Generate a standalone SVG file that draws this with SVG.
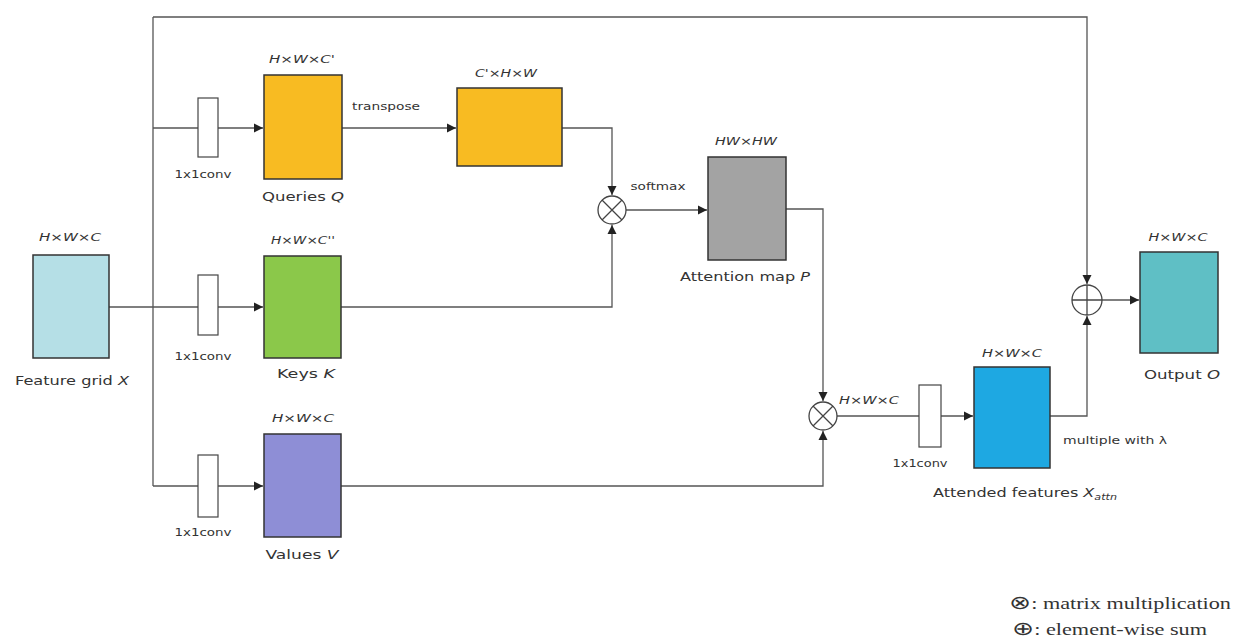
<svg xmlns="http://www.w3.org/2000/svg" width="1237" height="637" viewBox="0 0 1237 637">
<style>
.box{stroke:#333;stroke-width:1.5}
.conv{fill:#fff;stroke:#444;stroke-width:1.2}
.ln{fill:none;stroke:#555;stroke-width:1.3}
.lbl{font-family:"DejaVu Sans",Verdana,sans-serif;font-size:13px;fill:#333;text-anchor:middle}
.sm{font-family:"DejaVu Sans",Verdana,sans-serif;font-size:11px;fill:#333;text-anchor:middle}
.dim{font-family:"DejaVu Sans",Verdana,sans-serif;font-size:11px;font-style:italic;fill:#333;text-anchor:middle}
.op{fill:#fff;stroke:#444;stroke-width:1.3}
.leg{font-family:"Liberation Serif","Times New Roman",serif;font-size:16px;fill:#333}
</style>
<defs>
<marker id="ah" viewBox="0 0 10 10" refX="10" refY="5" markerWidth="7" markerHeight="7" orient="auto">
<path d="M0,0 L10,5 L0,10 z" fill="#222"/>
</marker>
</defs>
<rect width="1237" height="637" fill="#fff"/>
<g id="connectors">
<polyline class="ln" points="153,17 1087,17 1087,284" marker-end="url(#ah)"/>
<line class="ln" x1="109" y1="307" x2="153" y2="307"/>
<line class="ln" x1="153" y1="17" x2="153" y2="486"/>
<line class="ln" x1="153" y1="128" x2="263" y2="128" marker-end="url(#ah)"/>
<line class="ln" x1="153" y1="307" x2="263" y2="307" marker-end="url(#ah)"/>
<line class="ln" x1="153" y1="486" x2="263" y2="486" marker-end="url(#ah)"/>
<line class="ln" x1="342" y1="128" x2="456" y2="128" marker-end="url(#ah)"/>
<polyline class="ln" points="562,128 612,128 612,195" marker-end="url(#ah)"/>
<polyline class="ln" points="341,307 612,307 612,225" marker-end="url(#ah)"/>
<line class="ln" x1="626" y1="210" x2="707" y2="210" marker-end="url(#ah)"/>
<polyline class="ln" points="786,209 823,209 823,401" marker-end="url(#ah)"/>
<polyline class="ln" points="341,486 823,486 823,431" marker-end="url(#ah)"/>
<line class="ln" x1="837" y1="416" x2="973" y2="416" marker-end="url(#ah)"/>
<polyline class="ln" points="1050,416 1087,416 1087,316" marker-end="url(#ah)"/>
<line class="ln" x1="1102" y1="300" x2="1139" y2="300" marker-end="url(#ah)"/>
</g>
<g id="feature-grid">
<rect class="box" x="33" y="255" width="76" height="103" fill="#b5dfe6"/>
<text class="dim" x="70" y="241" textLength="62" lengthAdjust="spacingAndGlyphs">H×W×C</text>
<text class="lbl" x="72" y="385" textLength="114" lengthAdjust="spacingAndGlyphs">Feature grid <tspan font-style="italic">X</tspan></text>
</g>
<g id="conv-q">
<rect class="conv" x="198" y="98" width="20" height="59"/>
<text class="sm" x="203" y="178" textLength="57" lengthAdjust="spacingAndGlyphs">1x1conv</text>
</g>
<g id="conv-k">
<rect class="conv" x="198" y="275" width="20" height="60"/>
<text class="sm" x="203" y="360" textLength="57" lengthAdjust="spacingAndGlyphs">1x1conv</text>
</g>
<g id="conv-v">
<rect class="conv" x="198" y="455" width="20" height="62"/>
<text class="sm" x="203" y="536" textLength="57" lengthAdjust="spacingAndGlyphs">1x1conv</text>
</g>
<g id="queries">
<rect class="box" x="264" y="75" width="78" height="104" fill="#f8bb22"/>
<text class="dim" x="302" y="63" textLength="66" lengthAdjust="spacingAndGlyphs">H×W×C'</text>
<text class="lbl" x="303" y="201" textLength="82" lengthAdjust="spacingAndGlyphs">Queries <tspan font-style="italic">Q</tspan></text>
</g>
<g id="transpose-label">
<text class="sm" x="386" y="110" textLength="68" lengthAdjust="spacingAndGlyphs">transpose</text>
</g>
<g id="queries-t">
<rect class="box" x="457" y="88" width="105" height="78" fill="#f8bb22"/>
<text class="dim" x="506" y="77" textLength="62" lengthAdjust="spacingAndGlyphs">C'×H×W</text>
</g>
<g id="keys">
<rect class="box" x="264" y="256" width="77" height="102" fill="#8bc84a"/>
<text class="dim" x="303" y="244" textLength="64" lengthAdjust="spacingAndGlyphs">H×W×C''</text>
<text class="lbl" x="306" y="378" textLength="58" lengthAdjust="spacingAndGlyphs">Keys <tspan font-style="italic">K</tspan></text>
</g>
<g id="values">
<rect class="box" x="264" y="434" width="77" height="103" fill="#8e8ed6"/>
<text class="dim" x="303" y="422" textLength="62" lengthAdjust="spacingAndGlyphs">H×W×C</text>
<text class="lbl" x="302" y="559" textLength="73" lengthAdjust="spacingAndGlyphs">Values <tspan font-style="italic">V</tspan></text>
</g>
<g id="matmul1">
<circle class="op" cx="612" cy="210" r="14"/>
<path d="M602,200 L622,220 M622,200 L602,220" stroke="#444" stroke-width="1.3"/>
<text class="sm" x="658" y="190" textLength="55" lengthAdjust="spacingAndGlyphs">softmax</text>
</g>
<g id="attention-map">
<rect class="box" x="708" y="157" width="78" height="103" fill="#a3a3a3"/>
<text class="dim" x="746" y="145" textLength="62" lengthAdjust="spacingAndGlyphs">HW×HW</text>
<text class="lbl" x="745" y="281" textLength="130" lengthAdjust="spacingAndGlyphs">Attention map <tspan font-style="italic">P</tspan></text>
</g>
<g id="matmul2">
<circle class="op" cx="823" cy="416" r="14"/>
<path d="M813,406 L833,426 M833,406 L813,426" stroke="#444" stroke-width="1.3"/>
<text class="dim" x="869" y="404" textLength="60" lengthAdjust="spacingAndGlyphs">H×W×C</text>
</g>
<g id="conv-out">
<rect class="conv" x="919" y="385" width="22" height="62"/>
<text class="sm" x="920" y="467" textLength="55" lengthAdjust="spacingAndGlyphs">1x1conv</text>
</g>
<g id="attended">
<rect class="box" x="974" y="367" width="76" height="101" fill="#1ea8e2"/>
<text class="dim" x="1012" y="357" textLength="60" lengthAdjust="spacingAndGlyphs">H×W×C</text>
<text class="sm" x="1115" y="444" textLength="104" lengthAdjust="spacingAndGlyphs">multiple with λ</text>
<text class="lbl" x="1025" y="497" textLength="184" lengthAdjust="spacingAndGlyphs">Attended features <tspan font-style="italic">X</tspan><tspan font-size="9" dy="3" font-style="italic">attn</tspan></text>
</g>
<g id="sum">
<circle class="op" cx="1087" cy="300" r="15"/>
<path d="M1072,300 L1102,300 M1087,285 L1087,315" stroke="#444" stroke-width="1.3"/>
</g>
<g id="output">
<rect class="box" x="1140" y="252" width="78" height="101" fill="#5fbfc5"/>
<text class="dim" x="1178" y="241" textLength="59" lengthAdjust="spacingAndGlyphs">H×W×C</text>
<text class="lbl" x="1182" y="379" textLength="76" lengthAdjust="spacingAndGlyphs">Output <tspan font-style="italic">O</tspan></text>
</g>
<g id="legend">
<text class="leg" x="1009" y="609" textLength="222" lengthAdjust="spacingAndGlyphs"><tspan font-size="19">⊗</tspan>: matrix multiplication</text>
<text class="leg" x="1012" y="635" textLength="195" lengthAdjust="spacingAndGlyphs"><tspan font-size="19">⊕</tspan>: element-wise sum</text>
</g>
</svg>
